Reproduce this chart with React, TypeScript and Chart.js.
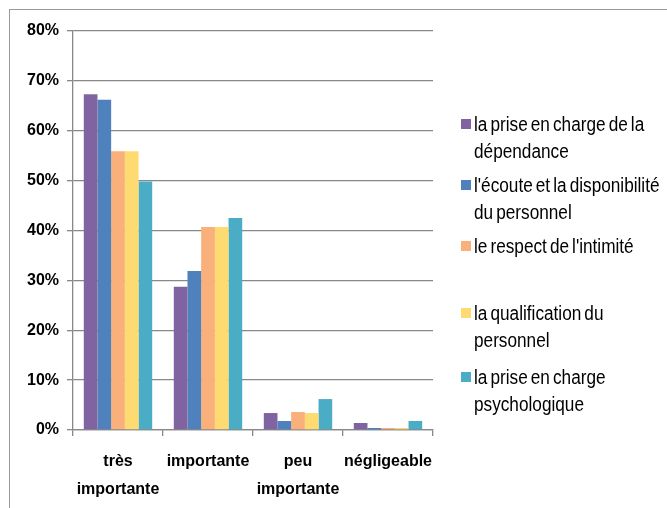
import React, { useEffect, useRef } from "react";
import { Chart, registerables } from "chart.js";

Chart.register(...registerables);

const categories: (string | string[])[] = [["très", "importante"], "importante", ["peu", "importante"], "négligeable"];

const seriesNames: string[][] = [
  ["la prise en charge de la", "dépendance"],
  ["l'écoute et la disponibilité", "du personnel"],
  ["le respect de l'intimité"],
  ["la qualification du", "personnel"],
  ["la prise en charge", "psychologique"],
];

const seriesColors = ["#8064A2", "#4F81BD", "#F9B07A", "#FEDB70", "#4BACC6"];

const dependance = [67.3, 28.7, 3.4, 1.4];
const ecoute = [66.2, 31.9, 1.8, 0.4];
const intimite = [55.9, 40.7, 3.6, 0.4];
const qualification = [55.9, 40.7, 3.4, 0.4];
const psychologique = [49.8, 42.5, 6.2, 1.8];

const seriesValues = [dependance, ecoute, intimite, qualification, psychologique];

const yTicks = [0, 10, 20, 30, 40, 50, 60, 70, 80];

const FONT = "'Liberation Sans', Arial, sans-serif";
const GRID = "#888888";

export default function App() {
  const ref = useRef<HTMLCanvasElement | null>(null);

  useEffect(() => {
    if (!ref.current) return;
    const chart = new Chart(ref.current, {
      type: "bar",
      data: {
        labels: categories,
        datasets: seriesValues.map((vals, i) => ({
          label: seriesNames[i].join(" "),
          data: vals,
          backgroundColor: seriesColors[i],
          borderWidth: 0,
          categoryPercentage: 0.76,
          barPercentage: 1,
        })),
      },
      options: {
        animation: false,
        responsive: false,
        devicePixelRatio: 1,
        layout: { padding: { top: 31, right: 234, bottom: 0, left: 0 } },
        plugins: { legend: { display: false }, tooltip: { enabled: false } },
        scales: {
          x: {
            grid: { display: true, drawOnChartArea: false, drawTicks: true, tickLength: 6, color: GRID, lineWidth: 1.3 },
            border: { display: true, color: GRID, width: 1.3 },
            ticks: {
              color: "#000",
              padding: 12,
              maxRotation: 0,
              autoSkip: false,
              font: { family: FONT, size: 16, weight: "bold", lineHeight: 1.75 },
            },
            afterFit: (s: any) => { s.height = 78; },
          },
          y: {
            min: 0,
            max: 80,
            afterBuildTicks: (s: any) => { s.ticks = yTicks.map((v) => ({ value: v })); },
            grid: { color: GRID, lineWidth: 1.3, tickLength: 6 },
            border: { display: true, color: GRID, width: 1.3 },
            ticks: {
              color: "#000",
              padding: 8,
              font: { family: FONT, size: 16, weight: "bold" },
              callback: (v: any) => `${v}%`,
            },
            afterFit: (s: any) => { s.width = 73; },
          },
        },
      },
    });
    return () => chart.destroy();
  }, []);

  const itemTops = [111, 172, 233, 300, 364];

  return (
    <div style={{ position: "absolute", left: 0, top: 0, width: 667, height: 508, overflow: "hidden", background: "#fff" }}>
      <div style={{ position: "absolute", left: 9, top: 9, width: 700, height: 600, borderLeft: "1px solid #999", borderTop: "1px solid #999" }} />
      <canvas ref={ref} width={667} height={508} style={{ position: "absolute", left: 0, top: 0, width: 667, height: 508 }} />
      {seriesNames.map((lines, i) => (
        <div key={i} style={{ position: "absolute", left: 461, top: itemTops[i], fontFamily: FONT, fontSize: 20, lineHeight: "27px", color: "#000", whiteSpace: "nowrap" }}>
          <div style={{ position: "absolute", left: 0, top: 8, width: 10, height: 10, background: seriesColors[i] }} />
          <div style={{ marginLeft: 13, wordSpacing: "-2px", transform: "scaleX(0.86)", transformOrigin: "left top" }}>
            {lines.map((l, j) => (<div key={j}>{l}</div>))}
          </div>
        </div>
      ))}
    </div>
  );
}
